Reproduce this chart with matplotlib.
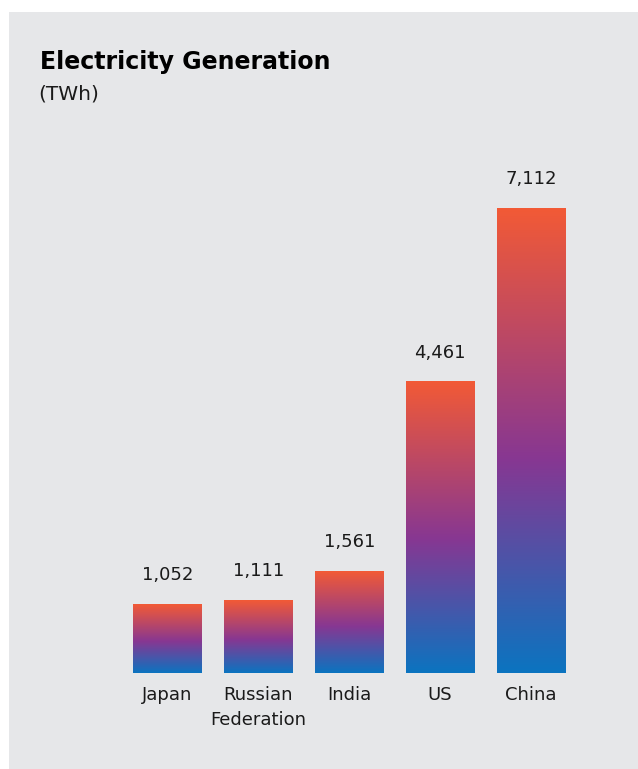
import numpy as np
import matplotlib
matplotlib.use("Agg")
import matplotlib.pyplot as plt
from matplotlib.colors import LinearSegmentedColormap
from matplotlib.patches import Rectangle

categories = ["Japan", "Russian\nFederation", "India", "US", "China"]
values = [1052, 1111, 1561, 4461, 7112]
value_labels = ["1,052", "1,111", "1,561", "4,461", "7,112"]

W, H = 638, 769
fig = plt.figure(figsize=(W / 100, H / 100), dpi=100)
fig.patch.set_facecolor("white")

bg = "#e6e7e9"
fig.patches.append(Rectangle((9 / W, 0), 1 - 9 / W, 1 - 12 / H,
                             transform=fig.transFigure, facecolor=bg,
                             edgecolor="none", zorder=-10))

txt_color = "#1a1a1a"
fig.text(40 / W, 1 - 69 / H, "Electricity Generation", fontsize=17,
         fontweight="bold", color="black", ha="left", va="baseline")
fig.text(38 / W, 1 - 99 / H, "(TWh)", fontsize=14.5, color=txt_color,
         ha="left", va="baseline")

left_px, right_px = 122, 576.5
top_px, base_px = 150, 672.7
ax = fig.add_axes([left_px / W, 1 - base_px / H, (right_px - left_px) / W,
                   (base_px - top_px) / H])
ax.set_facecolor("none")
x = np.arange(len(categories))

cmap = LinearSegmentedColormap.from_list(
    "grad", [(0.0, "#0b74c0"), (0.46, "#873792"), (1.0, "#f25a36")])
grad = np.linspace(0, 1, 256).reshape(-1, 1)

bw = 0.758
bars = ax.bar(x, values, width=bw, color="none", edgecolor="none")
for b, lab in zip(bars, value_labels):
    x0, y0 = b.get_x(), b.get_y()
    w, h = b.get_width(), b.get_height()
    im = ax.imshow(grad, extent=[x0, x0 + w, y0, y0 + h], origin="lower",
                   aspect="auto", cmap=cmap, zorder=2)
    im.set_clip_path(b)
    ax.annotate(lab, (x0 + w / 2, y0 + h), xytext=(0, 17),
                textcoords="offset points", ha="center", va="baseline",
                fontsize=13, color=txt_color)
ax.set_xlim(-0.5, len(categories) - 0.5)
ax.set_ylim(0, 8000)

ax.set_xticks(x)
ax.set_xticklabels(categories, fontsize=13, color=txt_color, linespacing=1.5)
ax.tick_params(axis="x", length=0, pad=9.5)
ax.set_yticks([])
for s in ax.spines.values():
    s.set_visible(False)

fig.savefig("out.png", dpi=100, facecolor=fig.get_facecolor())
